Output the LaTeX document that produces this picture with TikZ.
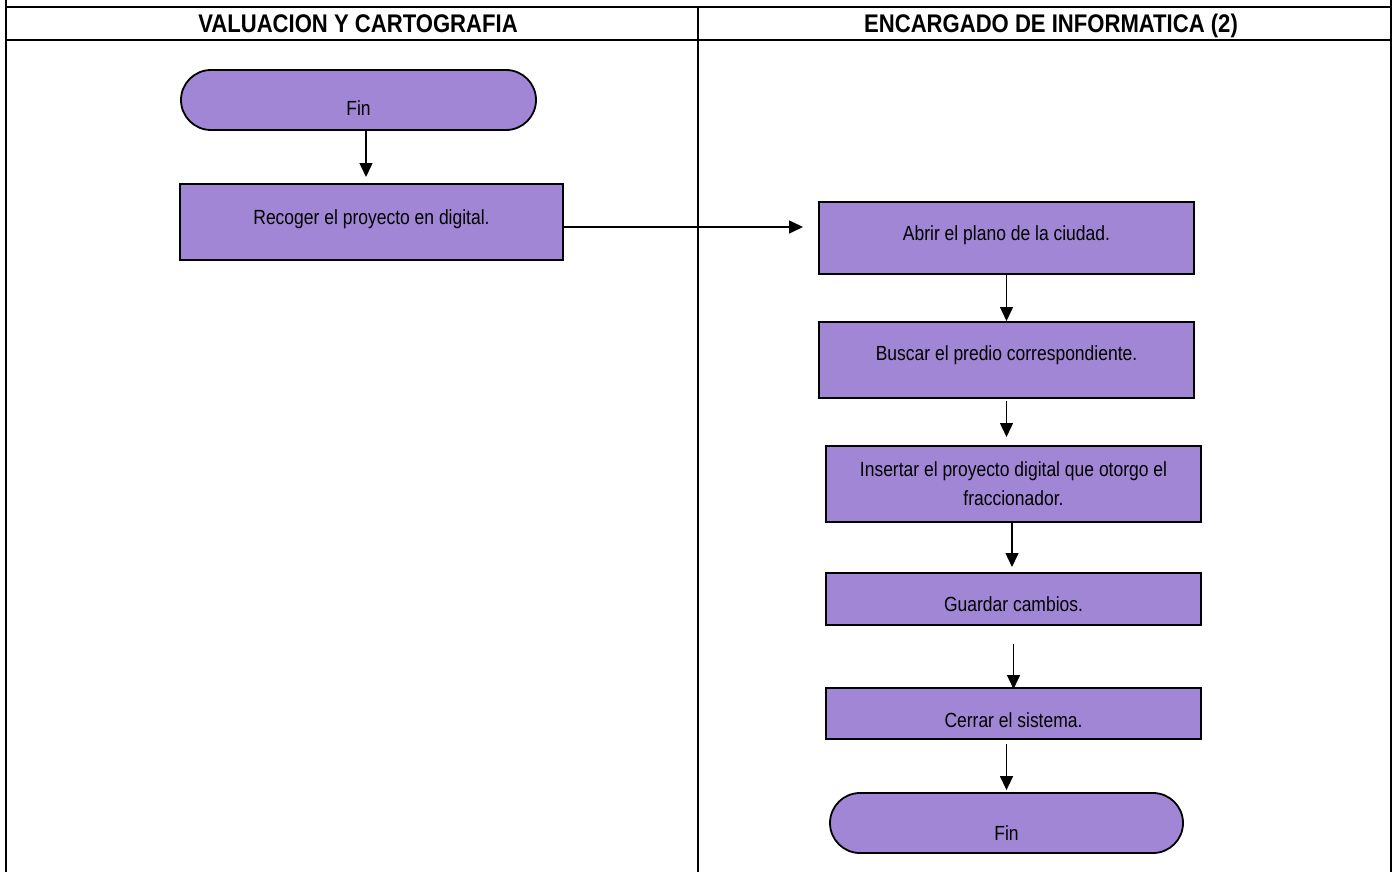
\documentclass[tikz,border=0pt]{standalone}
\usepackage{fontspec}
\setmainfont{Liberation Sans}[FakeStretch=0.853,BoldFeatures={FakeStretch=0.866}]
\usepackage{tikz}
\usetikzlibrary{arrows.meta,shapes.misc}
\definecolor{procfill}{RGB}{162,134,214}
\tikzset{
  procbox/.style={draw,line width=2pt,fill=procfill,minimum width=375pt,minimum height=76pt,inner sep=0pt,font=\fontsize{20.5}{29}\selectfont,align=center},
  endcap/.style={draw,line width=1.8pt,fill=procfill,rounded rectangle,rounded rectangle arc length=180,minimum width=355pt,minimum height=60pt,inner sep=0pt,font=\fontsize{20.5}{29}\selectfont},
  textdrop/.style={text height=#1,text depth=0pt},
  flowarrow/.style={line width=1.5pt,-{Triangle[length=14pt,width=13pt]}},
  frameline/.style={line width=2pt},
  headtext/.style={anchor=base,font=\bfseries\fontsize{25.5}{28}\selectfont}
}
\begin{document}
\begin{tikzpicture}[x=1pt,y=-1pt]
        \useasboundingbox (0,0) rectangle (1396,872);
        % table frame
        \draw[frameline] (6,0) -- (6,872);
        \draw[frameline] (1391,0) -- (1391,872);
        \draw[frameline] (6,7) -- (1391,7);
        \draw[frameline] (6,40) -- (1391,40);
        \draw[frameline] (698,7) -- (698,872);
        \node[headtext] (headval) at (358,33) {VALUACION Y CARTOGRAFIA};
        \node[headtext] (headinf) at (1051,33) {ENCARGADO DE INFORMATICA (2)};
        % left lane
        \node[endcap,textdrop=30.5pt] (finval) at (358.5,100) {Fin};
        \node[procbox,minimum width=383pt,textdrop=4.5pt] (recoger) at (371.5,222) {Recoger el proyecto en digital.};
        % right lane
        \node[procbox,minimum height=72pt,textdrop=4.5pt] (abrir) at (1006.5,238) {Abrir el plano de la ciudad.};
        \node[procbox,textdrop=0.5pt] (buscar) at (1006.5,360) {Buscar el predio correspondiente.};
        \node[procbox] (insertar) at (1013.5,484) {Insertar el proyecto digital que otorgo el\\fraccionador.};
        \node[procbox,minimum height=52pt,textdrop=24.5pt] (guardar) at (1013.5,599) {Guardar cambios.};
        \node[procbox,minimum height=51pt,textdrop=27.5pt] (cerrar) at (1013.5,713.5) {Cerrar el sistema.};
        \node[endcap,minimum width=353pt,textdrop=34.5pt] (finfin) at (1006.5,823) {Fin};
        % connectors
        \draw[flowarrow,shorten >=6pt] ([xshift=7.5pt]finval.south) -- ([xshift=7.5pt]finval.south |- recoger.north);
        \draw[flowarrow,shorten >=15pt] ([yshift=-5pt]recoger.east) -- ([yshift=-5pt]recoger.east -| abrir.west);
        \draw[flowarrow] (abrir.south) -- (buscar.north);
        \draw[flowarrow,shorten <=2pt,shorten >=8pt] (buscar.south) -- (buscar.south |- insertar.north);
        \draw[flowarrow,shorten >=5pt] ([xshift=-1.5pt]insertar.south) -- ([xshift=-1.5pt]insertar.south |- guardar.north);
        \draw[flowarrow,shorten <=18pt,shorten >=-2pt] (guardar.south) -- (cerrar.north);
        \draw[flowarrow,shorten <=4pt,shorten >=2pt] (cerrar.south -| finfin.north) -- (finfin.north);
    \end{tikzpicture}
\end{document}
